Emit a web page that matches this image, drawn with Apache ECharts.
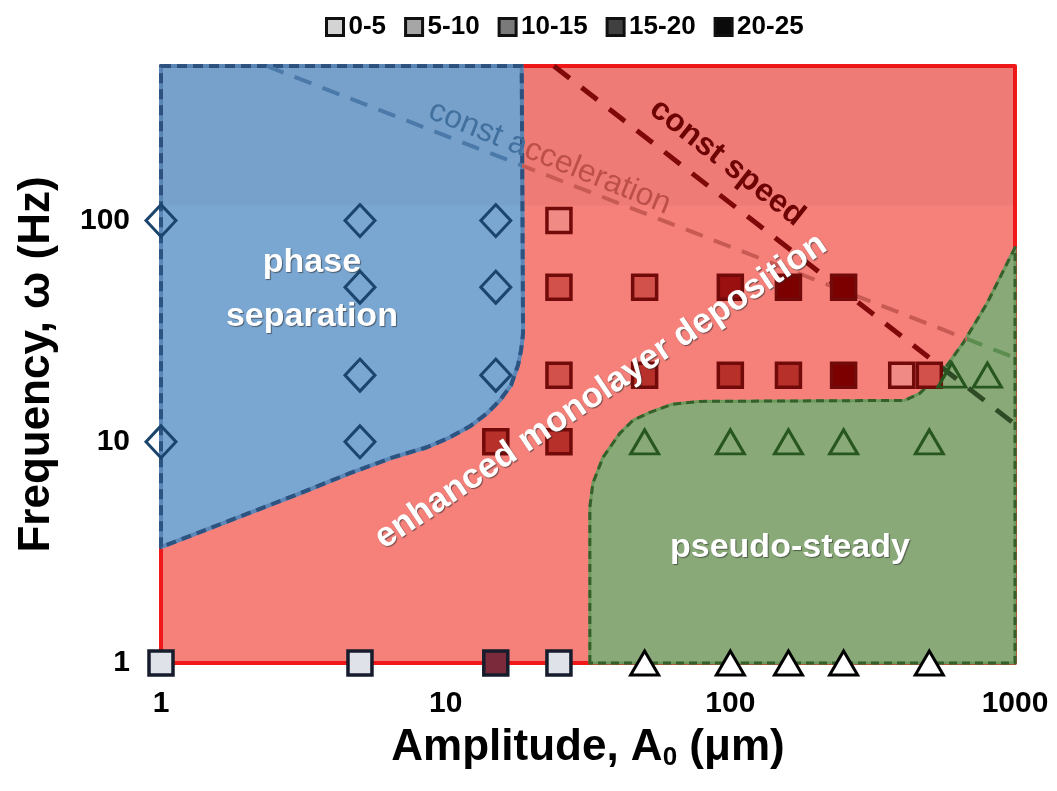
<!DOCTYPE html>
<html><head><meta charset="utf-8">
<script src="https://cdn.jsdelivr.net/npm/echarts@6/dist/echarts.min.js"></script>
<style>html,body{margin:0;padding:0;background:#fff;}#chart{width:1057px;height:791px;}</style>
</head><body><div id="chart"></div>
<script>
// ---------------- data ----------------
const xTicks = [1, 10, 100, 1000];
const yTicks = [1, 10, 100];
const phaseSeparationPts = [[1,100],[5,100],[15,100],[5,50],[15,50],[5,20],[15,20],[1,10],[5,10]];
const pseudoSteadyPts = [[50,10],[100,10],[160,10],[250,10],[500,10],[600,20],[800,20],[50,1],[100,1],[160,1],[250,1],[500,1]];
const depositionCategories = ['0-5','5-10','10-15','15-20','20-25'];
const dep0to5   = [[25,100],[400,20],[1,1],[5,1],[25,1]];
const dep5to10  = [[25,50],[50,50],[25,20],[500,20]];
const dep10to15 = [[50,20],[100,20],[160,20],[15,10],[25,10],[15,1]];
const dep15to20 = [[100,50]];
const dep20to25 = [[160,50],[250,50],[250,20]];
const plotFrame = [[1,1],[1,500],[1000,500],[1000,1]];
const phaseSeparationBoundary = [[1,500],[18.5,500],[18.7,30.9],[18.4,25.9],[17.95,22.2],[16.96,18.0],[15.5,15.4],[13.97,13.45],[12.17,11.75],[10.35,10.48],[8.6,9.45],[6.53,8.51],[4.61,7.21],[3.08,5.85],[1,3.34]];
const pseudoSteadyBoundary = [[32.1,1],[32.1,5.06],[32.9,6.5],[35.7,8.51],[40.9,10.92],[45.5,12.51],[52.2,13.59],[62.3,14.77],[78.2,15.23],[410,15.39],[463,16.56],[515,18.95],[577,22.15],[656,27.85],[797,42.2],[1000,75.5],[1000,1]];
const upperBand = [[1,117],[1,500],[1000,500],[1000,117]];
const constAccelerationLine = [[2.35,500],[1000,24]];
const constSpeedLine = [[24,500],[1000,12]];
const annotationLabels = ['phase\nseparation','pseudo-steady','enhanced monolayer deposition','const acceleration','const speed'];
const annotationAnchors = [[3.39,48.8],[162,3.31],[35.1,16.9],[23.2,192.5],[97.3,182.8]];

// ---------------- styles ----------------
const FONT = 'Liberation Sans, Arial, sans-serif';
const squareFill = ['#ef8a84','#d2514a','#b8302a','#9a1010','#7d0000'];
const legendGrey = ['#d4d4d4','#a6a6a6','#7a7a7a','#404040','#0a0a0a'];
const depData = [dep0to5, dep5to10, dep10to15, dep15to20, dep20to25];

function isTick(v, ticks){ return ticks.some(t => Math.abs(v - t) / t < 1e-6); }

function regionSeries(name, pts, fill, strokes, z){
  return {
    type:'custom', name, coordinateSystem:'cartesian2d', silent:true, z,
    data: pts, encode:{x:0, y:1},
    renderItem(params, api){
      if (params.dataIndex !== 0) return null;
      const P = pts.map(p => api.coord(p));
      const children = [];
      if (fill) children.push({type:'polygon', shape:{points:P}, style:{fill:fill, stroke:null}});
      strokes.forEach(s => children.push({type:'polygon', shape:{points:P},
        style:{fill:null, stroke:s.color, lineWidth:s.width, lineDash:s.dash || null, lineJoin:'round'}}));
      return {type:'group', children};
    }
  };
}

// reference line: colour changes where it crosses region boundaries (breaks given in x data units)
function refLineSeries(name, pts, breaks, colors, width, dash, z){
  return {
    type:'custom', name, coordinateSystem:'cartesian2d', silent:true, z,
    data: pts, encode:{x:0, y:1},
    renderItem(params, api){
      if (params.dataIndex !== 0) return null;
      const P = pts.map(p => api.coord(p));
      const x0 = P[0][0], x1 = P[P.length-1][0];
      const stops = [];
      let prev = 0;
      breaks.forEach((b, i) => {
        const bx = api.coord([b, pts[0][1]])[0];
        const f = Math.min(1, Math.max(0, (bx - x0) / (x1 - x0)));
        stops.push({offset:prev, color:colors[i]}, {offset:f, color:colors[i]});
        prev = f;
      });
      stops.push({offset:prev, color:colors[colors.length-1]}, {offset:1, color:colors[colors.length-1]});
      const grad = new echarts.graphic.LinearGradient(x0, 0, x1, 0, stops, true);
      return {type:'polyline', shape:{points:P},
        style:{fill:null, stroke:grad, lineWidth:width, lineDash:dash, lineCap:'butt'}};
    }
  };
}

const series = [];
series.push(regionSeries('enhanced', plotFrame, '#f6807a', [{color:'#f01818', width:4}], 1));
series.push(regionSeries('phase', phaseSeparationBoundary, '#7aa7d1',
  [{color:'#5b88b8', width:4}, {color:'#2d5380', width:4, dash:[10,6]}], 2));
series.push(regionSeries('steady', pseudoSteadyBoundary, '#89aa78',
  [{color:'#6f9a5e', width:3}, {color:'#35602b', width:3, dash:[8,5]}], 3));
series.push(regionSeries('band', upperBand, 'rgba(60,10,40,0.035)', [], 4));

series.push(refLineSeries('const acceleration', constAccelerationLine, [18.5, 680],
  ['#4a79aa', '#c85a54', '#5d8c4f'], 4, [18,12], 6));
series.push(refLineSeries('const speed', constSpeedLine, [550],
  ['#800808', '#2e4b26'], 5, [20,15], 6));

series.push({type:'scatter', name:'phase separation', data:phaseSeparationPts, symbol:'diamond', symbolSize:[30,32],
  clip:false, z:8, itemStyle:{color:'rgba(0,0,0,0)', borderColor:'#1c456d', borderWidth:3, opacity:1}});

depositionCategories.forEach((cat, i) => {
  series.push({type:'scatter', name:cat, symbol:'rect', symbolSize:24, clip:false, z:8,
    itemStyle:{color:squareFill[i], borderColor:'#720a0a', borderWidth:3.5, opacity:1},
    data: depData[i].map(p => p[1] === 1
      ? {value:p, itemStyle:{color: i === 0 ? '#dfe2e8' : '#7a2a3a', borderColor:'#161c2c', borderWidth:3.5, opacity:1}}
      : p)});
});

series.push({type:'scatter', name:'pseudo-steady', symbol:'triangle', symbolSize:[28,24], clip:false, z:8,
  itemStyle:{color:'rgba(0,0,0,0)', borderColor:'#28561f', borderWidth:3, opacity:1},
  data: pseudoSteadyPts.map(p => p[1] === 1
    ? {value:p, itemStyle:{color:'#ffffff', borderColor:'#000000', borderWidth:3, opacity:1}} : p)});

const whiteLabel = {color:'#ffffff', fontFamily:FONT, fontWeight:'bold', fontSize:34,
  textShadowColor:'rgba(40,40,40,0.6)', textShadowBlur:1, textShadowOffsetX:1, textShadowOffsetY:1};
const annotationStyles = [
  Object.assign({}, whiteLabel, {lineHeight:54, rotate:0}),
  Object.assign({}, whiteLabel, {rotate:0}),
  Object.assign({}, whiteLabel, {fontSize:35, rotate:34}),
  {rotate:-22, fontFamily:FONT, fontSize:32,
    formatter:'{a|const a}{b|cceleration}',
    rich:{a:{color:'#41709f', fontSize:32, fontFamily:FONT}, b:{color:'#bd4f4a', fontSize:32, fontFamily:FONT}}},
  {rotate:-38, color:'#6e0303', fontFamily:FONT, fontWeight:'bold', fontSize:32}
];
series.push({type:'scatter', name:'annotations', symbolSize:1, clip:false, z:10, silent:true,
  itemStyle:{color:'rgba(0,0,0,0)', opacity:1},
  data: annotationAnchors.map((p, i) => ({value:p,
    label:Object.assign({show:true, position:'inside', formatter:annotationLabels[i]}, annotationStyles[i])}))});

const chart = echarts.init(document.getElementById('chart'), null, {renderer:'canvas'});
chart.setOption({
  backgroundColor:'#ffffff',
  animation:false,
  grid:{left:161, right:42, top:66, bottom:128, containLabel:false},
  legend:{
    top:9, left:320, itemWidth:17, itemHeight:17, itemGap:18, selectedMode:false,
    textStyle:{fontFamily:FONT, fontWeight:'bold', fontSize:26, color:'#000'},
    data: depositionCategories.map((c, i) => ({name:c, icon:'rect',
      itemStyle:{color:legendGrey[i], borderColor:'#111', borderWidth:3, opacity:1}}))
  },
  xAxis:{
    type:'log', logBase:10, min:1, max:1000,
    name:'Amplitude, A{sub|0} (μm)', nameLocation:'middle', nameGap:62,
    nameTextStyle:{fontFamily:FONT, fontWeight:'bold', fontSize:44, color:'#000',
      rich:{sub:{fontFamily:FONT, fontWeight:'bold', fontSize:26, color:'#000', padding:[20,0,0,0]}}},
    axisLine:{show:false}, axisTick:{show:false}, splitLine:{show:false},
    axisLabel:{margin:26, fontFamily:FONT, fontWeight:'bold', fontSize:30, color:'#000',
      formatter: v => isTick(v, xTicks) ? String(Math.round(v)) : ''}
  },
  yAxis:{
    type:'log', logBase:10, min:1, max:500,
    name:'Frequency, ω (Hz)', nameLocation:'middle', nameGap:102,
    nameTextStyle:{fontFamily:FONT, fontWeight:'bold', fontSize:44, color:'#000'},
    axisLine:{show:false}, axisTick:{show:false}, splitLine:{show:false},
    axisLabel:{margin:31, fontFamily:FONT, fontWeight:'bold', fontSize:30, color:'#000',
      formatter: v => isTick(v, yTicks) ? String(Math.round(v)) : ''}
  },
  series
});
</script></body></html>
